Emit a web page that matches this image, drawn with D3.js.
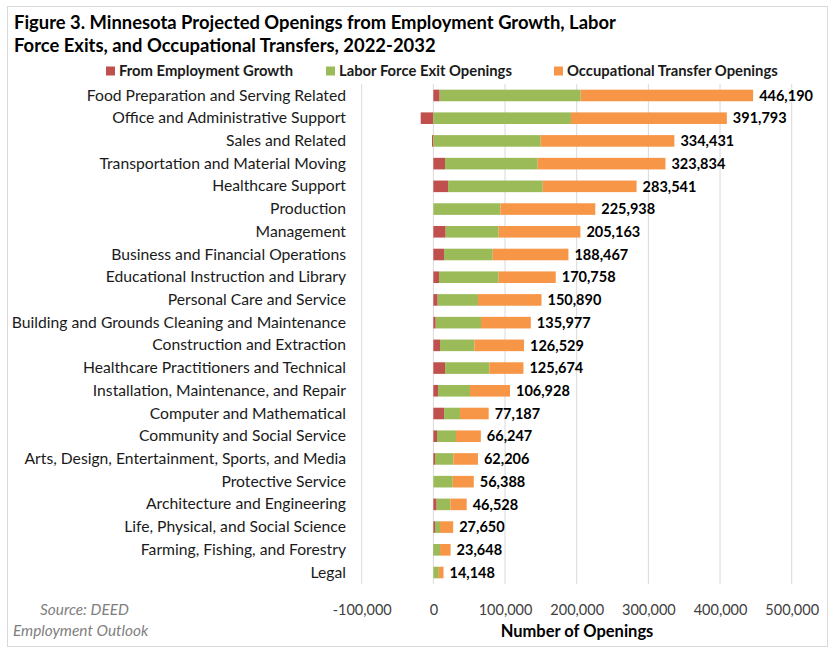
<!DOCTYPE html>
<html>
<head>
<meta charset="utf-8">
<script src="https://cdn.jsdelivr.net/npm/d3@7"></script>
<style>
  body { margin: 0; background: #fff; }
  text { font-family: Lato, "Open Sans", sans-serif; }
</style>
</head>
<body>
<div id="chart-container"></div>
<script>
// data
const categories = [
  "Food Preparation and Serving Related",
  "Office and Administrative Support",
  "Sales and Related",
  "Transportation and Material Moving",
  "Healthcare Support",
  "Production",
  "Management",
  "Business and Financial Operations",
  "Educational Instruction and Library",
  "Personal Care and Service",
  "Building and Grounds Cleaning and Maintenance",
  "Construction and Extraction",
  "Healthcare Practitioners and Technical",
  "Installation, Maintenance, and Repair",
  "Computer and Mathematical",
  "Community and Social Service",
  "Arts, Design, Entertainment, Sports, and Media",
  "Protective Service",
  "Architecture and Engineering",
  "Life, Physical, and Social Science",
  "Farming, Fishing, and Forestry",
  "Legal"
];
const growth = [8800, -17700, -1900, 16300, 20500, 0, 17200, 14900, 7900, 6000, 3300, 9300, 16300, 6500, 14900, 5100, 2300, 0, 4600, 2300, -400, 0];
const laborExits = [196800, 192000, 149700, 129300, 132100, 93500, 73900, 67900, 83200, 56300, 63200, 47900, 61800, 44600, 22300, 26500, 25600, 27000, 19100, 7000, 9300, 7600];
const transfers = [240590, 217493, 186600, 178234, 130941, 132438, 114063, 105667, 79658, 88590, 69477, 69329, 47574, 55828, 39987, 34647, 34306, 29388, 22828, 18350, 14748, 6548];
const totals = [446190, 391793, 334431, 323834, 283541, 225938, 205163, 188467, 170758, 150890, 135977, 126529, 125674, 106928, 77187, 66247, 62206, 56388, 46528, 27650, 23648, 14148];
const seriesNames = ["From Employment Growth", "Labor Force Exit Openings", "Occupational Transfer Openings"];
const xTicks = [-100000, 0, 100000, 200000, 300000, 400000, 500000];

const colors = ["#c0504d", "#9bbb59", "#f79646"];
const W = 835, H = 654;
const fmt = d => d3.format(",")(d).replace("\u2212", "-");

const rows = categories.map((c, i) => ({
  cat: c, g: growth[i], l: laborExits[i], t: transfers[i], total: totals[i]
}));

const svg = d3.select("#chart-container")
  .append("svg")
  .attr("width", W)
  .attr("height", H);

// outer frame
svg.append("rect")
  .attr("x", 7.5).attr("y", 6.5)
  .attr("width", 820).attr("height", 640)
  .attr("fill", "#fff")
  .attr("stroke", "#d9d9d9");

// title
const title = svg.append("text")
  .attr("font-size", 18.4)
  .attr("font-weight", "bold")
  .attr("fill", "#000");
title.append("tspan").attr("x", 14).attr("y", 29)
  .text("Figure 3. Minnesota Projected Openings from Employment Growth, Labor");
title.append("tspan").attr("x", 14).attr("y", 52)
  .text("Force Exits, and Occupational Transfers, 2022-2032");

// scales
const x = d3.scaleLinear().domain([-100000, 500000]).range([361.7, 791.7]);
const y = d3.scaleBand().domain(categories).range([84, 584])
  .paddingInner(0.49).paddingOuter(0.25);

// gridlines
svg.append("g")
  .selectAll("line")
  .data(xTicks)
  .join("line")
  .attr("x1", d => x(d)).attr("x2", d => x(d))
  .attr("y1", 84).attr("y2", 584)
  .attr("stroke", "#d9d9d9")
  .attr("stroke-width", 1);

// x axis labels
const xAxis = svg.append("g")
  .attr("transform", "translate(0,612)")
  .call(d3.axisBottom(x).tickValues(xTicks).tickSize(0).tickFormat(fmt));
xAxis.select(".domain").remove();
xAxis.selectAll("text")
  .attr("font-family", "Lato, sans-serif")
  .attr("font-size", 14.5)
  .attr("fill", "#404040")
  .attr("dy", 0);

// y axis labels
const yAxis = svg.append("g")
  .attr("transform", "translate(346,0)")
  .call(d3.axisLeft(y).tickSize(0).tickPadding(0));
yAxis.select(".domain").remove();
yAxis.selectAll("text")
  .attr("font-family", "Lato, sans-serif")
  .attr("font-size", 15.7)
  .attr("fill", "#1a1a1a");

// stacked bars
const stack = d3.stack()
  .keys(["g", "l", "t"])
  .offset(d3.stackOffsetDiverging);
const series = stack(rows);

svg.append("g")
  .selectAll("g")
  .data(series)
  .join("g")
  .attr("fill", (d, i) => colors[i])
  .selectAll("rect")
  .data(d => d)
  .join("rect")
  .attr("x", d => x(Math.min(d[0], d[1])))
  .attr("y", d => y(d.data.cat))
  .attr("width", d => Math.abs(x(d[1]) - x(d[0])))
  .attr("height", y.bandwidth());

// total labels
svg.append("g")
  .selectAll("text")
  .data(rows)
  .join("text")
  .attr("x", d => x(Math.max(0, d.g) + d.l + d.t) + 6)
  .attr("y", d => y(d.cat) + y.bandwidth() / 2)
  .attr("dy", "0.36em")
  .attr("font-size", 14.5)
  .attr("font-weight", "bold")
  .attr("fill", "#000")
  .text(d => fmt(d.total));

// legend
const legendX = [106, 326, 554];
const legend = svg.append("g")
  .selectAll("g")
  .data(seriesNames)
  .join("g")
  .attr("transform", (d, i) => `translate(${legendX[i]},71)`);
legend.append("rect")
  .attr("x", 0).attr("y", -4.5)
  .attr("width", 9).attr("height", 9)
  .attr("fill", (d, i) => colors[i]);
legend.append("text")
  .attr("x", 13)
  .attr("dy", "0.36em")
  .attr("font-size", 14.8)
  .attr("font-weight", "bold")
  .attr("fill", "#1a1a1a")
  .text(d => d);

// axis title
svg.append("text")
  .attr("x", 577).attr("y", 637)
  .attr("text-anchor", "middle")
  .attr("font-size", 16.5)
  .attr("font-weight", "bold")
  .attr("fill", "#000")
  .text("Number of Openings");

// source note
const src = svg.append("text")
  .attr("font-size", 15.4)
  .attr("font-style", "italic")
  .attr("fill", "#7f7f7f");
src.append("tspan").attr("x", 40).attr("y", 615).text("Source: DEED");
src.append("tspan").attr("x", 13).attr("y", 636).text("Employment Outlook");
</script>
</body>
</html>
